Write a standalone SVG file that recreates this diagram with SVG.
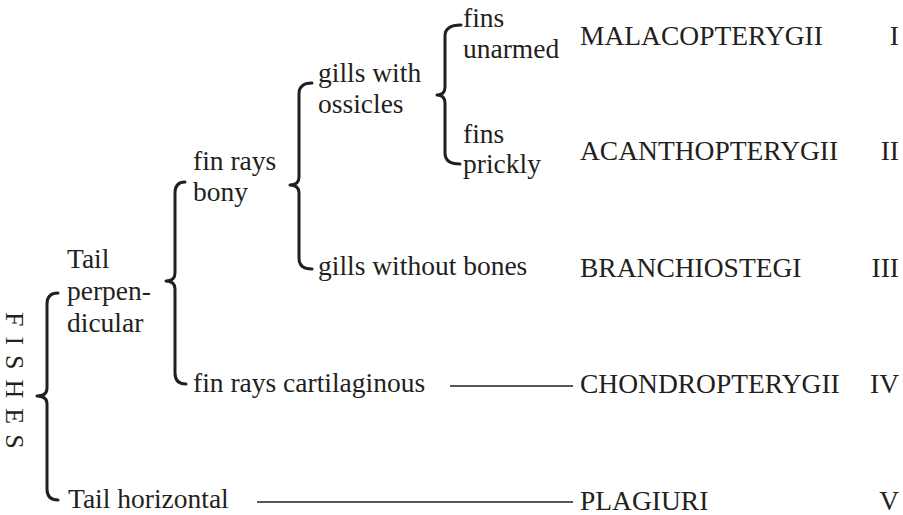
<svg xmlns="http://www.w3.org/2000/svg" width="903" height="515" viewBox="0 0 903 515">
<style>
.br{fill:none;stroke:#231f20;stroke-width:3;stroke-linecap:round;stroke-linejoin:round}
.ln{stroke:#231f20;stroke-width:1.3}
.num{text-anchor:end}
</style>
<rect width="903" height="515" fill="#fff"/>
<g id="connectors">
<path class="br" d="M58,293 Q47,293 47,304 L47,388 Q47,396 37,396 Q47,396 47,404 L47,489 Q47,500 58,500"/>
<path class="br" d="M185,182 Q175,182 175,193 L175,273 Q175,281 166,281 Q175,281 175,289 L175,373 Q175,384 186,384"/>
<path class="br" d="M312,83 Q299,83 299,94 L299,177 Q299,185 290,185 Q299,185 299,193 L299,258 Q299,269 312,269"/>
<path class="br" d="M461,25 Q445,25 445,36 L445,87 Q445,95 437,95 Q445,95 445,103 L445,153 Q445,164 460,164"/>
<line class="ln" x1="450" y1="386" x2="573" y2="386"/>
<line class="ln" x1="257" y1="502" x2="573" y2="502"/>
</g>
<g id="fishes"><text font-family="Liberation Serif" fill="#231f20" transform="translate(6,312) rotate(90)" font-size="26" letter-spacing="10">FISHES</text></g>
<g id="tail-perpendicular"><text font-family="Liberation Serif" font-size="27.5" fill="#231f20" x="67" y="268">Tail</text><text font-family="Liberation Serif" font-size="27.5" fill="#231f20" x="67" y="300">perpen-</text><text font-family="Liberation Serif" font-size="27.5" fill="#231f20" x="67" y="332">dicular</text></g>
<g id="tail-horizontal"><text font-family="Liberation Serif" font-size="27.5" fill="#231f20" x="68" y="508">Tail horizontal</text></g>
<g id="fin-rays-bony"><text font-family="Liberation Serif" font-size="27.5" fill="#231f20" x="193" y="170">fin rays</text><text font-family="Liberation Serif" font-size="27.5" fill="#231f20" x="193" y="201">bony</text></g>
<g id="fin-rays-cartilaginous"><text font-family="Liberation Serif" font-size="27.5" fill="#231f20" x="193" y="392">fin rays cartilaginous</text></g>
<g id="gills-with-ossicles"><text font-family="Liberation Serif" font-size="27.5" fill="#231f20" x="318" y="82">gills with</text><text font-family="Liberation Serif" font-size="27.5" fill="#231f20" x="318" y="113">ossicles</text></g>
<g id="gills-without-bones"><text font-family="Liberation Serif" font-size="27.5" fill="#231f20" x="318" y="275">gills without bones</text></g>
<g id="fins-unarmed"><text font-family="Liberation Serif" font-size="27.5" fill="#231f20" x="463" y="27">fins</text><text font-family="Liberation Serif" font-size="27.5" fill="#231f20" x="463" y="58">unarmed</text></g>
<g id="fins-prickly"><text font-family="Liberation Serif" font-size="27.5" fill="#231f20" x="463" y="143">fins</text><text font-family="Liberation Serif" font-size="27.5" fill="#231f20" x="463" y="173">prickly</text></g>
<g id="malacopterygii"><text font-family="Liberation Serif" font-size="27.5" fill="#231f20" x="580" y="45">MALACOPTERYGII</text><text font-family="Liberation Serif" font-size="27.5" fill="#231f20" class="num" x="899" y="45">I</text></g>
<g id="acanthopterygii"><text font-family="Liberation Serif" font-size="27.5" fill="#231f20" x="580" y="160">ACANTHOPTERYGII</text><text font-family="Liberation Serif" font-size="27.5" fill="#231f20" class="num" x="899" y="160">II</text></g>
<g id="branchiostegi"><text font-family="Liberation Serif" font-size="27.5" fill="#231f20" x="580" y="277">BRANCHIOSTEGI</text><text font-family="Liberation Serif" font-size="27.5" fill="#231f20" class="num" x="899" y="277">III</text></g>
<g id="chondropterygii"><text font-family="Liberation Serif" font-size="27.5" fill="#231f20" x="580" y="393">CHONDROPTERYGII</text><text font-family="Liberation Serif" font-size="27.5" fill="#231f20" class="num" x="899" y="393">IV</text></g>
<g id="plagiuri"><text font-family="Liberation Serif" font-size="27.5" fill="#231f20" x="580" y="510">PLAGIURI</text><text font-family="Liberation Serif" font-size="27.5" fill="#231f20" class="num" x="899" y="510">V</text></g>
</svg>
